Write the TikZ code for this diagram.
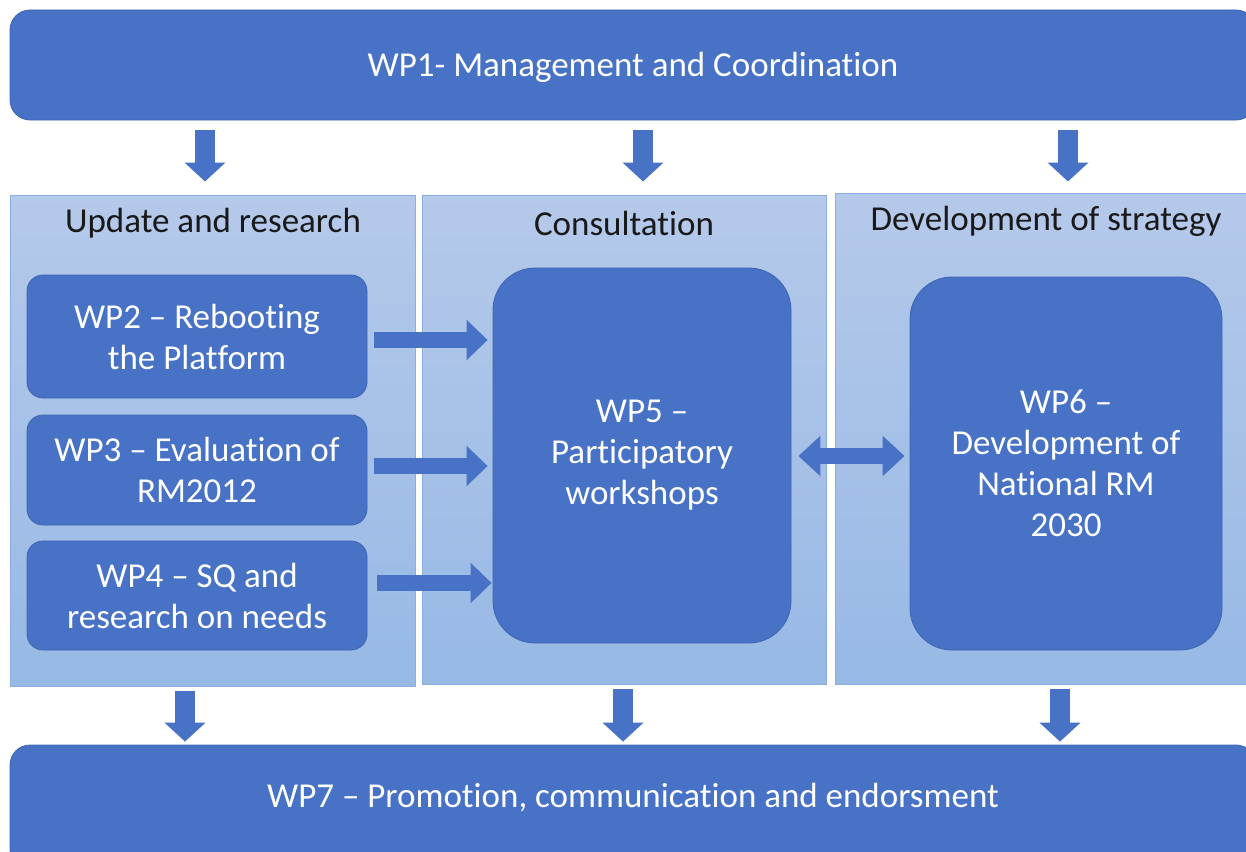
\documentclass[tikz,border=0pt]{standalone}
\usepackage{fontspec}
\setmainfont{Carlito}[Ligatures=NoCommon]
\usetikzlibrary{arrows.meta}
\definecolor{boxblue}{HTML}{4772C6}
\definecolor{boxedge}{HTML}{3D66B0}
\definecolor{paneltop}{HTML}{B5C9EA}
\definecolor{panelbot}{HTML}{97B9E5}
\definecolor{paneledge}{HTML}{8AAEE0}
\tikzset{
  bluebox/.style={fill=boxblue, draw=boxedge, line width=0.8pt, text=white, align=center, inner sep=0pt, font=\fontsize{35}{41}\selectfont},
  panel/.style={top color=paneltop, bottom color=panelbot, draw=paneledge, line width=1pt, inner sep=0pt},
  headtext/.style={text=black!90, font=\fontsize{35}{41}\selectfont, inner sep=0pt},
  bartext/.style={text=white, font=\fontsize{35}{41}\selectfont, inner sep=0pt},
  downarrow/.style={draw=boxblue, line width=20pt, -{Triangle[length=19pt,width=40pt]}},
  harrow/.style={draw=boxblue, line width=16pt, -{Triangle[length=21pt,width=39pt]}},
  darrow/.style={draw=boxblue, line width=16pt, {Triangle[length=22pt,width=39pt]}-{Triangle[length=22pt,width=39pt]}}
}
\begin{document}
\begin{tikzpicture}[x=1pt,y=-1pt]
\useasboundingbox (0,0) rectangle (1246,851);
% top bar
\node[bluebox, rounded corners=20pt, minimum width=1246pt, minimum height=110pt] (wp1) at (633,65) {};
\node[bartext] (wp1t) at (633,67) {WP1- Management and Coordination};
% panels
\node[panel, minimum width=405pt, minimum height=491pt] (upd) at (212.5,440.5) {};
\node[panel, minimum width=404pt, minimum height=489pt] (con) at (624,439.5) {};
\node[panel, minimum width=420pt, minimum height=491pt] (dev) at (1045,438.5) {};
\node[headtext] (updt) at (213,223) {Update and research};
\node[headtext] (cont) at (624,223) {Consultation};
\node[headtext] (devt) at (1046,221) {Development of strategy};
% inner boxes
\node[bluebox, rounded corners=16pt, minimum width=340pt, minimum height=123pt] (wp2) at (197,336.5) {WP2 – Rebooting\\the Platform};
\node[bluebox, rounded corners=16pt, minimum width=340pt, minimum height=110pt] (wp3) at (197,470) {WP3 – Evaluation of\\RM2012};
\node[bluebox, rounded corners=16pt, minimum width=340pt, minimum height=109pt] (wp4) at (197,595.5) {WP4 – SQ and\\research on needs};
\node[bluebox, rounded corners=42pt, minimum width=298pt, minimum height=375pt] (wp5) at (642,455.5) {WP5 –\\Participatory\\workshops};
\node[bluebox, rounded corners=42pt, minimum width=312pt, minimum height=373pt] (wp6) at (1066,463.5) {WP6 –\\Development of\\National RM\\2030};
% bottom bar
\node[bluebox, rounded corners=20pt, minimum width=1246pt, minimum height=125pt] (wp7) at (633,807.5) {};
\node[bartext] (wp7t) at (633,798) {WP7 – Promotion, communication and endorsment};
% down arrows from WP1
\draw[downarrow, shorten <=10pt, shorten >=13pt] ([xshift=-7.5pt]upd.north |- wp1.south) -- ([xshift=-7.5pt]upd.north);
\draw[downarrow, shorten <=10pt, shorten >=13pt] ([xshift=19pt]con.north |- wp1.south) -- ([xshift=19pt]con.north);
\draw[downarrow, shorten <=10pt, shorten >=11pt] ([xshift=23pt]dev.north |- wp1.south) -- ([xshift=23pt]dev.north);
% down arrows to WP7
\draw[downarrow, shorten <=4pt, shorten >=3pt] ([xshift=-27.5pt]upd.south) -- ([xshift=-27.5pt]upd.south |- wp7.north);
\draw[downarrow, shorten <=4pt, shorten >=3pt] ([xshift=-1pt]con.south) -- ([xshift=-1pt]con.south |- wp7.north);
\draw[downarrow, shorten <=4pt, shorten >=3pt] ([xshift=15pt]dev.south) -- ([xshift=15pt]dev.south |- wp7.north);
% horizontal arrows
\draw[harrow, shorten <=7pt, shorten >=5pt] ([yshift=-3.5pt]wp2.east) -- ([yshift=-3.5pt]wp2.east -| wp5.west);
\draw[harrow, shorten <=7pt, shorten >=5pt] ([yshift=4pt]wp3.east) -- ([yshift=4pt]wp3.east -| wp5.west);
\draw[harrow, shorten <=10pt, shorten >=1pt] ([yshift=12.5pt]wp4.east) -- ([yshift=12.5pt]wp4.east -| wp5.west);
\draw[darrow, shorten <=7pt, shorten >=5pt] ([yshift=-0.5pt]wp5.east -| wp5.east) -- ([yshift=-0.5pt]wp5.east -| wp6.west);
\end{tikzpicture}
\end{document}
